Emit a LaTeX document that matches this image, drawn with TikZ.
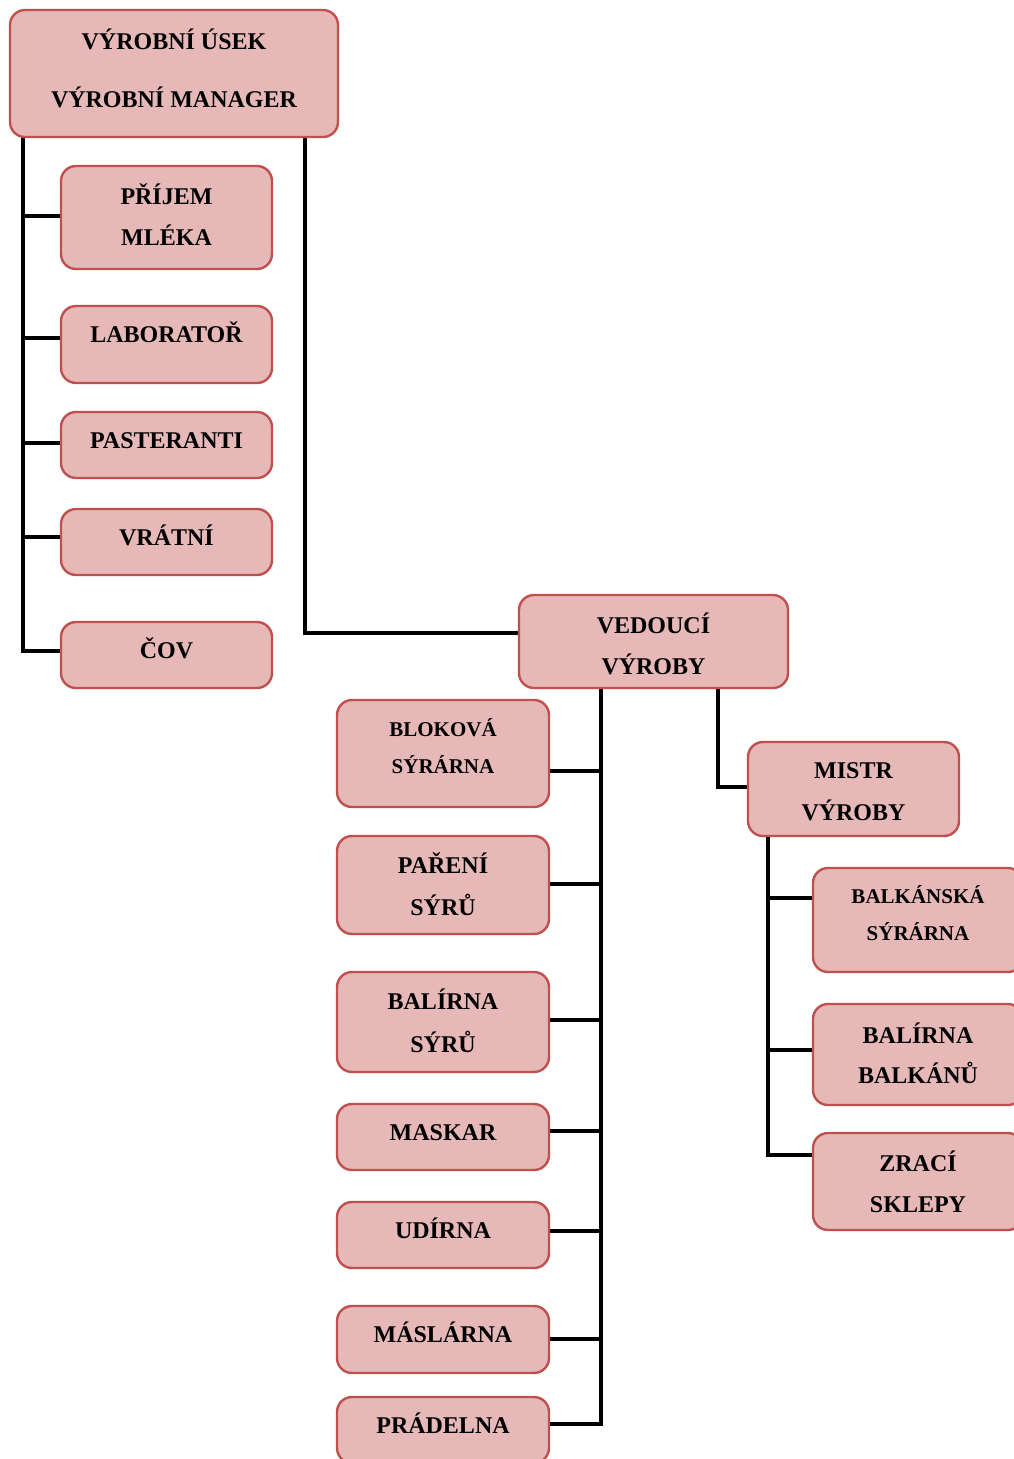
\documentclass[tikz,border=0pt]{standalone}
\usepackage{fontspec}
\setmainfont{Liberation Serif}
\usetikzlibrary{backgrounds}
\definecolor{boxfill}{HTML}{E6B9B8}
\definecolor{boxedge}{HTML}{C0504D}
\tikzset{
  unitbox/.style={draw=boxedge, fill=boxfill, line width=2.4pt, rounded corners=15pt, inner sep=0pt, outer sep=0pt},
  conn/.style={draw=black, line width=3.5pt},
  lbl/.style={anchor=base, inner sep=0pt, font=\bfseries\fontsize{24}{28}\selectfont},
  lblsmall/.style={lbl, font=\bfseries\fontsize{21}{25}\selectfont},
}
% box from its corners (x1,y1) to (x2,y2)
\newcommand\orgunit[5]{%
  \node[unitbox, minimum width={(#4-#2)*1pt}, minimum height={(#5-#3)*1pt}]
    (#1) at ({(#2+#4)/2},{(#3+#5)/2}) {};}
\begin{document}
\begin{tikzpicture}[x=1pt, y=-1pt]
\useasboundingbox (0,0) rectangle (1014,1459);
\clip (0,0) rectangle (1014,1459);

% production department
\orgunit{top}{10}{10}{338}{137}
\node[lbl] (top1) at (174,49) {VÝROBNÍ ÚSEK};
\node[lbl] (top2) at (174,107) {VÝROBNÍ MANAGER};

\orgunit{prijem}{61}{166}{272}{269}
\node[lbl] (prijem1) at (166.5,204) {PŘÍJEM};
\node[lbl] (prijem2) at (166.5,245) {MLÉKA};

\orgunit{lab}{61}{306}{272}{383}
\node[lbl] (lab1) at (166.5,342) {LABORATOŘ};

\orgunit{past}{61}{412}{272}{478}
\node[lbl] (past1) at (166.5,448) {PASTERANTI};

\orgunit{vratni}{61}{509}{272}{575}
\node[lbl] (vratni1) at (166.5,545) {VRÁTNÍ};

\orgunit{cov}{61}{622}{272}{688}
\node[lbl] (cov1) at (166.5,658) {ČOV};

% head of production
\orgunit{ved}{519}{595}{788}{688}
\node[lbl] (ved1) at (653.5,633) {VEDOUCÍ};
\node[lbl] (ved2) at (653.5,674) {VÝROBY};

\orgunit{blok}{337}{700}{549}{807}
\node[lblsmall] (blok1) at (443,736) {BLOKOVÁ};
\node[lblsmall] (blok2) at (443,773) {SÝRÁRNA};

\orgunit{pareni}{337}{836}{549}{934}
\node[lbl] (pareni1) at (443,873) {PAŘENÍ};
\node[lbl] (pareni2) at (443,915) {SÝRŮ};

\orgunit{balirna}{337}{972}{549}{1072}
\node[lbl] (balirna1) at (443,1009) {BALÍRNA};
\node[lbl] (balirna2) at (443,1052) {SÝRŮ};

\orgunit{maskar}{337}{1104}{549}{1170}
\node[lbl] (maskar1) at (443,1140) {MASKAR};

\orgunit{udirna}{337}{1202}{549}{1268}
\node[lbl] (udirna1) at (443,1238) {UDÍRNA};

\orgunit{maslarna}{337}{1306}{549}{1373}
\node[lbl] (maslarna1) at (443,1342) {MÁSLÁRNA};

\orgunit{pradelna}{337}{1397}{549}{1463}
\node[lbl] (pradelna1) at (443,1433) {PRÁDELNA};

% production foreman
\orgunit{mistr}{748}{742}{959}{836}
\node[lbl] (mistr1) at (853.5,778) {MISTR};
\node[lbl] (mistr2) at (853.5,820) {VÝROBY};

\orgunit{balk}{813}{868}{1023}{972}
\node[lblsmall] (balk1) at (918,903) {BALKÁNSKÁ};
\node[lblsmall] (balk2) at (918,940) {SÝRÁRNA};

\orgunit{balb}{813}{1004}{1023}{1105}
\node[lbl] (balb1) at (918,1043) {BALÍRNA};
\node[lbl] (balb2) at (918,1083) {BALKÁNŮ};

\orgunit{zraci}{813}{1133}{1023}{1230}
\node[lbl] (zraci1) at (918,1171) {ZRACÍ};
\node[lbl] (zraci2) at (918,1212) {SKLEPY};

\begin{pgfonlayer}{background}
  % manager's direct units
  \draw[conn] ([xshift=13pt]top.south west) |- ([yshift=1.5pt]prijem.west);
  \draw[conn] ([xshift=13pt]top.south west) |- ([yshift=6.5pt]lab.west);
  \draw[conn] ([xshift=13pt]top.south west) |- ([yshift=2pt]past.west);
  \draw[conn] ([xshift=13pt]top.south west) |- ([yshift=5pt]vratni.west);
  \draw[conn] ([xshift=13pt]top.south west) |- ([yshift=4pt]cov.west);
  \draw[conn] ([xshift=-33pt]top.south east) |- ([yshift=8.5pt]ved.west);
  % head of production's units
  \draw[conn] ([xshift=82pt]ved.south west) |- ([yshift=-17.5pt]blok.east);
  \draw[conn] ([xshift=82pt]ved.south west) |- ([yshift=1pt]pareni.east);
  \draw[conn] ([xshift=82pt]ved.south west) |- ([yshift=2pt]balirna.east);
  \draw[conn] ([xshift=82pt]ved.south west) |- ([yshift=6pt]maskar.east);
  \draw[conn] ([xshift=82pt]ved.south west) |- ([yshift=4pt]udirna.east);
  \draw[conn] ([xshift=82pt]ved.south west) |- ([yshift=0.5pt]maslarna.east);
  \draw[conn] ([xshift=82pt]ved.south west) |- ([yshift=6pt]pradelna.east);
  \draw[conn] ([xshift=-70pt]ved.south east) |- ([yshift=2pt]mistr.west);
  % foreman's units
  \draw[conn] ([xshift=20pt]mistr.south west) |- ([yshift=22pt]balk.west);
  \draw[conn] ([xshift=20pt]mistr.south west) |- ([yshift=4.5pt]balb.west);
  \draw[conn] ([xshift=20pt]mistr.south west) |- ([yshift=26.5pt]zraci.west);
\end{pgfonlayer}
\end{tikzpicture}
\end{document}
